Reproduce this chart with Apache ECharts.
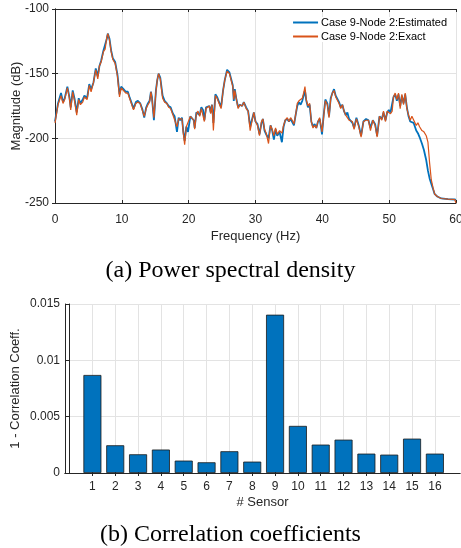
<!DOCTYPE html>
<html><head><meta charset="utf-8">
<script src="https://cdn.jsdelivr.net/npm/echarts@6/dist/echarts.min.js"></script>
<style>html,body{margin:0;padding:0;background:#fff;}#c{width:461px;height:548px;}</style>
</head><body><div id="c"></div>
<script>
const freq = [0.0,0.45,0.9,1.2,1.45,1.85,2.15,2.35,2.65,2.95,3.25,3.55,3.8,4.15,4.4,4.8,5.13,5.4,5.75,6.1,6.4,6.65,6.9,7.25,7.5,7.75,7.9,8.15,8.4,8.65,9.0,9.35,9.65,9.9,10.25,10.6,10.9,11.15,11.4,11.75,12.1,12.4,12.75,13.1,13.35,13.65,13.9,14.15,14.35,14.5,14.8,15.1,15.3,15.5,15.75,16.1,16.4,16.75,17.0,17.3,17.65,17.9,18.25,18.5,18.75,19.0,19.2,19.4,19.65,19.9,20.25,20.5,20.75,20.9,21.15,21.4,21.65,21.9,22.15,22.35,22.6,22.85,23.1,23.3,23.5,23.7,24.0,24.25,24.5,24.85,25.15,25.4,25.75,26.1,26.3,26.6,26.75,26.9,27.15,27.4,27.65,28.0,28.25,28.6,28.9,29.2,29.5,29.75,30.0,30.3,30.6,30.9,31.1,31.35,31.6,31.95,32.25,32.5,32.75,33.0,33.25,33.6,33.95,34.2,34.45,34.75,35.0,35.25,35.5,35.75,36.0,36.25,36.5,36.75,37.0,37.25,37.4,37.6,37.85,38.1,38.35,38.6,38.85,39.1,39.35,39.6,39.85,39.95,40.2,40.45,40.75,41.0,41.25,41.5,41.75,42.0,42.25,42.5,42.75,43.0,43.25,43.5,43.75,44.0,44.25,44.5,44.75,45.1,45.45,45.8,46.15,46.55,46.9,47.2,47.55,47.9,48.2,48.55,48.9,49.15,49.45,49.7,49.95,50.2,50.45,50.65,50.9,51.15,51.4,51.65,51.9,52.15,52.4,52.65,52.9,53.15,53.4,53.65,54.05,54.3,54.55,54.9,55.2,55.55,55.8,56.05,56.3,56.55,56.8,57.2,57.8,58.8,59.8,60.0];
const exactDb = [-188,-174,-167,-173,-170,-161,-169,-178,-164,-172,-182,-170,-174,-172,-168,-170,-159,-164,-157,-147,-154,-144,-141,-133,-131,-122,-119,-124,-133,-139,-142,-152,-168,-161,-163,-165,-165,-169,-168,-178,-173,-172,-173,-179,-183,-177,-174,-172,-164,-169,-184,-164,-155,-150,-154,-169,-172,-173,-176,-177,-182,-183,-191,-185,-186,-185,-196,-205,-191,-190,-183,-183,-186,-193,-181,-179,-183,-177,-178,-187,-177,-177,-175,-181,-174,-194,-167,-169,-169,-177,-163,-155,-148,-150,-149,-160,-170,-163,-170,-177,-174,-175,-172,-177,-179,-194,-186,-180,-187,-190,-198,-187,-185,-193,-196,-204,-190,-193,-198,-192,-197,-194,-196,-190,-186,-184,-187,-184,-186,-189,-182,-173,-171,-172,-169,-164,-160,-170,-175,-173,-187,-192,-190,-192,-187,-184,-192,-195,-183,-171,-174,-184,-170,-165,-163,-168,-169,-173,-177,-174,-179,-182,-181,-186,-185,-187,-193,-185,-191,-199,-187,-186,-186,-194,-186,-190,-199,-183,-186,-179,-187,-179,-178,-181,-179,-168,-165,-170,-165,-177,-166,-174,-165,-177,-182,-186,-183,-184,-190,-188,-191,-194,-195,-198,-203,-219,-232,-238,-243,-245,-246.5,-247,-247.3,-250];
const estDb = [-187,-173,-165,-172,-169,-160,-168,-176,-163,-170,-180,-169,-173,-170,-167,-169,-158,-162,-157,-146,-152,-144,-140,-132,-132,-123,-119,-123,-132,-138,-141,-151,-166,-160,-162,-164,-164,-168,-167,-177,-172,-171,-173,-178,-184,-176,-173,-171,-164,-168,-186,-163,-155,-150,-153,-167,-171,-173,-175,-176,-181,-183,-195,-184,-186,-184,-195,-202,-191,-195,-183,-184,-186,-192,-180,-179,-182,-176,-178,-186,-176,-176,-175,-180,-174,-188,-166,-168,-169,-176,-163,-155,-147,-149,-149,-159,-171,-162,-170,-176,-174,-175,-172,-176,-179,-191,-185,-180,-187,-189,-197,-188,-185,-194,-197,-200,-190,-194,-201,-193,-198,-195,-203,-191,-186,-185,-187,-185,-186,-190,-182,-175,-172,-174,-171,-166,-163,-171,-176,-174,-187,-191,-189,-192,-187,-185,-193,-197,-182,-170,-173,-183,-169,-165,-162,-167,-168,-172,-176,-174,-179,-182,-180,-185,-185,-188,-192,-184,-190,-198,-187,-185,-186,-192,-186,-189,-198,-183,-185,-180,-186,-180,-178,-180,-179,-168,-166,-171,-166,-175,-167,-173,-166,-176,-183,-187,-186,-188,-194,-196,-199,-204,-209,-217,-225,-231,-235,-239,-243,-245,-246.5,-247,-247.3,-247.5];
const sensors = [1,2,3,4,5,6,7,8,9,10,11,12,13,14,15,16];
const corrErr = [0.0087,0.00246,0.00166,0.00208,0.0011,0.00095,0.00193,0.00101,0.01405,0.00418,0.00252,0.00296,0.00172,0.00163,0.00305,0.00172];
const legendNames = ['Case 9-Node 2:Estimated','Case 9-Node 2:Exact'];

const FONT = 'Liberation Sans';
const AX = '#262626';
const GRIDC = '#e3e3e3';
const chart = echarts.init(document.getElementById('c'), null, {renderer:'canvas'});
const lbl = {color: AX, fontFamily: FONT, fontSize: 12};
const nameStyle = {color: AX, fontFamily: FONT, fontSize: 13};
function mirrorX(gi, min, max, interval, extra) {
  return Object.assign({gridIndex: gi, type: 'value', position: 'top', min, max, interval,
    axisLine: {show: true, lineStyle: {color: AX, width: 1}},
    axisTick: {show: true, inside: true, length: 3, lineStyle: {color: AX}},
    axisLabel: {show: false}, splitLine: {show: false}}, extra || {});
}
function mirrorY(gi, min, max, interval) {
  return {gridIndex: gi, type: 'value', position: 'right', min, max, interval,
    axisLine: {show: true, lineStyle: {color: AX, width: 1}},
    axisTick: {show: true, inside: true, length: 3, lineStyle: {color: AX}},
    axisLabel: {show: false}, splitLine: {show: false}};
}
const option = {
  animation: false,
  backgroundColor: '#fff',
  title: [
    {text: '(a) Power spectral density', left: 'center', top: 254,
     textStyle: {fontFamily: 'Liberation Serif', fontSize: 24, fontWeight: 'normal', color: '#000'}},
    {text: '(b) Correlation coefficients', left: 'center', top: 518,
     textStyle: {fontFamily: 'Liberation Serif', fontSize: 24, fontWeight: 'normal', color: '#000'}}
  ],
  legend: {
    data: legendNames, orient: 'vertical', right: 14, top: 17, itemGap: 3,
    itemWidth: 25, itemHeight: 2, icon: 'rect',
    textStyle: {color: '#000', fontFamily: FONT, fontSize: 11, padding: [0,0,0,-2]},
    backgroundColor: '#fff', padding: [0, 0, 0, 0]
  },
  grid: [
    {left: 55, right: 5, top: 9, height: 194, containLabel: false, outerBoundsMode: 'none'},
    {left: 65, right: 1, top: 304, height: 169, containLabel: false, outerBoundsMode: 'none'}
  ],
  xAxis: [
    {gridIndex: 0, type: 'value', min: 0, max: 60, interval: 10,
     name: 'Frequency (Hz)', nameLocation: 'middle', nameGap: 27, nameMoveOverlap: false,
     nameTextStyle: nameStyle,
     axisLine: {show: true, onZero: false, lineStyle: {color: AX, width: 1}},
     axisTick: {show: true, inside: true, length: 3, lineStyle: {color: AX}},
     axisLabel: Object.assign({margin: 11}, lbl),
     splitLine: {show: true, lineStyle: {color: GRIDC, width: 1}}},
    mirrorX(0, 0, 60, 10),
    {gridIndex: 1, type: 'value', min: -0.2, max: 17.1,
     name: '# Sensor', nameLocation: 'middle', nameGap: 23, nameMoveOverlap: false,
     nameTextStyle: nameStyle,
     axisLine: {show: true, onZero: false, lineStyle: {color: AX, width: 1}},
     axisTick: {show: true, inside: true, length: 3, lineStyle: {color: AX}, customValues: sensors},
     axisLabel: Object.assign({margin: 8, customValues: sensors}, lbl),
     splitLine: {show: true, lineStyle: {color: GRIDC, width: 1}}},
    mirrorX(1, -0.2, 17.1, null, {axisTick: {show: true, inside: true, length: 3, lineStyle: {color: AX}, customValues: sensors}})
  ],
  yAxis: [
    {gridIndex: 0, type: 'value', min: -250, max: -100, interval: 50,
     name: 'Magnitude (dB)', nameLocation: 'middle', nameGap: 32, nameMoveOverlap: false,
     nameTextStyle: nameStyle,
     axisLine: {show: true, onZero: false, lineStyle: {color: AX, width: 1}},
     axisTick: {show: true, inside: true, length: 3, lineStyle: {color: AX}},
     axisLabel: Object.assign({margin: 6}, lbl),
     splitLine: {show: true, lineStyle: {color: GRIDC, width: 1}}},
    mirrorY(0, -250, -100, 50),
    {gridIndex: 1, type: 'value', min: 0, max: 0.015, interval: 0.005,
     name: '1 - Correlation Coeff.', nameLocation: 'middle', nameGap: 43, nameMoveOverlap: false,
     nameTextStyle: nameStyle,
     axisLine: {show: true, onZero: false, lineStyle: {color: AX, width: 1}},
     axisTick: {show: true, inside: true, length: 3, lineStyle: {color: AX}},
     axisLabel: Object.assign({margin: 5, formatter: v => v === 0 ? '0' : String(+v.toFixed(3))}, lbl),
     splitLine: {show: true, lineStyle: {color: GRIDC, width: 1}}},
    mirrorY(1, 0, 0.015, 0.005)
  ],
  series: [
    {name: legendNames[0], type: 'line', xAxisIndex: 0, yAxisIndex: 0, showSymbol: false,
     data: freq.map((f, i) => [f, estDb[i]]), lineStyle: {color: '#0072BD', width: 1.8}, itemStyle: {color: '#0072BD'}, z: 3},
    {name: legendNames[1], type: 'line', xAxisIndex: 0, yAxisIndex: 0, showSymbol: false,
     data: freq.map((f, i) => [f, exactDb[i]]), lineStyle: {color: '#D95319', width: 1.2}, itemStyle: {color: '#D95319'}, z: 4},
    {type: 'bar', xAxisIndex: 2, yAxisIndex: 2, barWidth: 18,
     data: sensors.map((s, i) => [s, corrErr[i]]),
     itemStyle: {color: '#0072BD', borderColor: '#1a1a1a', borderWidth: 0.8}}
  ]
};
chart.setOption(option);
</script></body></html>
